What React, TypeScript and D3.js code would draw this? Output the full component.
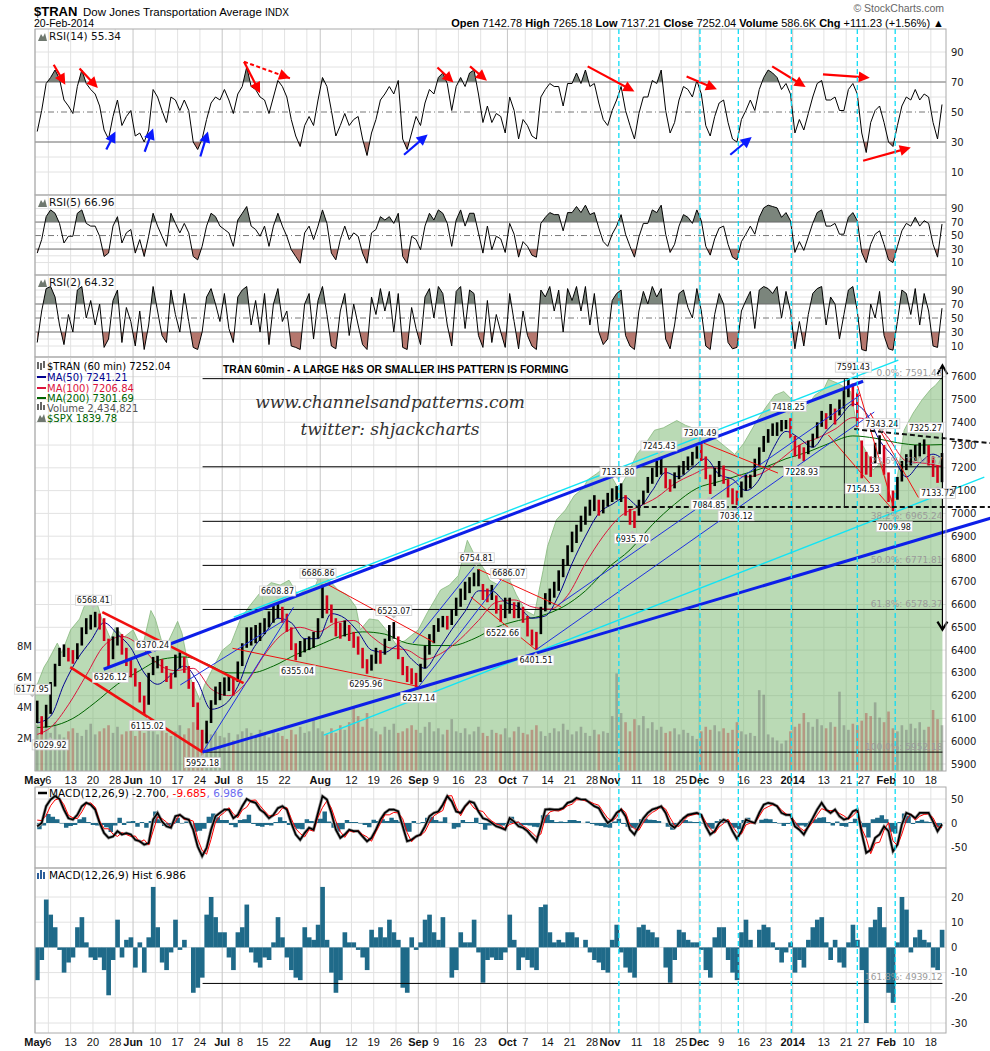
import React from "react";
import * as d3 from "d3";

// ---------------- DATA (trading-day index t: 0 = 6 May 2013, -3 = 1 May 2013) ----------------
const T0 = -3;

const priceHigh = [
  6178, 6110, 6160, 6260, 6340, 6410, 6425, 6410, 6400, 6430,
  6500, 6540, 6555, 6568, 6560, 6540, 6450, 6460, 6500, 6470,
  6410, 6360, 6320, 6260, 6200, 6300, 6370, 6375, 6360, 6330,
  6300, 6380, 6390, 6370, 6330, 6260, 6170, 6050, 6090, 6180,
  6240, 6260, 6280, 6290, 6280, 6350, 6430, 6500, 6500, 6510,
  6520, 6540, 6570, 6595, 6609, 6590, 6560, 6500, 6430, 6440,
  6450, 6460, 6480, 6540, 6687, 6640, 6600, 6540, 6520, 6530,
  6510, 6480, 6460, 6410, 6360, 6380, 6410, 6400, 6450, 6510,
  6523, 6460, 6370, 6330, 6320, 6300, 6340, 6420, 6470, 6510,
  6540, 6550, 6550, 6580, 6630, 6670, 6700, 6720, 6740, 6755,
  6690, 6670, 6686, 6640, 6600, 6630, 6630, 6610, 6610, 6590,
  6550, 6490, 6480, 6590, 6650, 6670, 6700, 6750, 6800, 6860,
  6920, 6950, 6990, 7030, 7060, 7080, 7060, 7060, 7090, 7110,
  7120, 7132, 7080, 7020, 7010, 7060, 7100, 7160, 7200, 7230,
  7245, 7200, 7150, 7180, 7210, 7230, 7250, 7270, 7295, 7304,
  7250, 7170, 7200, 7230, 7210, 7150, 7110, 7100, 7140, 7170,
  7170, 7240, 7290, 7340, 7370, 7395, 7400, 7410, 7410, 7418,
  7340, 7300, 7290, 7320, 7350, 7400, 7450, 7440, 7480, 7460,
  7500, 7540, 7591, 7570, 7530, 7320, 7270, 7250, 7310, 7343,
  7300, 7180, 7100, 7160, 7230, 7260, 7280, 7300, 7310, 7325,
  7300, 7250, 7210, 7265,
];
const priceLow = [
  6080, 6030, 6060, 6120, 6240, 6330, 6370, 6350, 6340, 6360,
  6420, 6470, 6490, 6500, 6490, 6440, 6326, 6360, 6420, 6380,
  6330, 6280, 6240, 6170, 6115, 6160, 6290, 6320, 6300, 6260,
  6230, 6280, 6320, 6300, 6230, 6150, 6050, 5952, 5990, 6080,
  6160, 6180, 6200, 6220, 6200, 6260, 6330, 6410, 6420, 6430,
  6440, 6470, 6500, 6520, 6540, 6520, 6480, 6400, 6355, 6370,
  6390, 6400, 6410, 6450, 6540, 6560, 6520, 6460, 6450, 6460,
  6440, 6410, 6380, 6320, 6296, 6310, 6340, 6340, 6380, 6440,
  6450, 6360, 6290, 6260, 6250, 6237, 6260, 6320, 6380, 6430,
  6480, 6500, 6490, 6510, 6550, 6590, 6620, 6650, 6680, 6680,
  6620, 6610, 6620, 6560, 6523, 6540, 6560, 6540, 6540, 6520,
  6460, 6420, 6402, 6470, 6570, 6600, 6630, 6660, 6720, 6770,
  6830, 6870, 6920, 6950, 6990, 7010, 6990, 7000, 7030, 7050,
  7060, 7050, 6990, 6950, 6936, 6990, 7040, 7090, 7130, 7160,
  7170, 7110, 7095, 7110, 7150, 7170, 7190, 7210, 7240, 7230,
  7150, 7085, 7120, 7160, 7130, 7070, 7040, 7036, 7070, 7100,
  7110, 7160, 7210, 7270, 7310, 7340, 7340, 7360, 7370, 7330,
  7250, 7240, 7229, 7260, 7290, 7330, 7380, 7370, 7410, 7390,
  7430, 7460, 7510, 7470, 7380, 7154, 7170, 7160, 7220, 7260,
  7170, 7050, 7010, 7060, 7140, 7190, 7210, 7230, 7250, 7260,
  7210, 7160, 7134, 7137,
];

const rsi14 = [
  37, 51, 69, 73, 78, 72, 58, 54, 49, 67,
  78, 69, 65, 62, 54, 38, 32, 47, 58, 41,
  47, 51, 34, 36, 30, 38, 65, 60, 51, 43,
  60, 58, 51, 58, 51, 30, 25, 32, 45, 56,
  60, 58, 65, 58, 49, 62, 67, 80, 67, 65,
  60, 58, 49, 60, 71, 67, 60, 45, 34, 27,
  41, 47, 41, 58, 73, 67, 51, 34, 41, 49,
  41, 45, 47, 32, 21, 36, 45, 58, 62, 67,
  62, 71, 32, 25, 36, 47, 41, 56, 65, 62,
  73, 76, 69, 51, 67, 73, 67, 76, 78, 62,
  43, 54, 43, 49, 47, 36, 60, 51, 32, 45,
  41, 34, 32, 60, 65, 69, 67, 67, 54, 69,
  69, 76, 69, 78, 67, 69, 56, 45, 41, 51,
  58, 67, 51, 41, 32, 49, 60, 60, 71, 69,
  78, 51, 36, 43, 58, 67, 65, 60, 71, 62,
  41, 34, 47, 56, 58, 43, 32, 30, 45, 51,
  58, 51, 65, 73, 78, 76, 73, 65, 69, 62,
  36, 45, 38, 49, 60, 69, 71, 58, 58, 60,
  51, 51, 65, 69, 62, 36, 23, 43, 51, 54,
  43, 30, 27, 41, 54, 60, 58, 65, 58, 62,
  60, 43, 32, 55,
];
const rsi5 = [
  24, 44, 78, 88, 83, 68, 39, 49, 49, 83,
  88, 68, 64, 64, 49, 19, 24, 64, 78, 39,
  54, 59, 24, 44, 19, 49, 83, 64, 49, 34,
  83, 68, 54, 68, 54, 19, 14, 34, 64, 83,
  78, 64, 59, 54, 34, 73, 83, 93, 64, 59,
  49, 64, 34, 64, 83, 64, 49, 29, 19, 9,
  54, 64, 44, 64, 88, 68, 24, 14, 44, 64,
  44, 54, 49, 24, 9, 54, 59, 78, 73, 78,
  68, 83, 19, 9, 49, 44, 29, 64, 83, 73,
  88, 83, 68, 34, 73, 88, 64, 83, 83, 54,
  24, 64, 29, 49, 45, 25, 68, 52, 18, 41,
  34, 21, 18, 68, 77, 84, 81, 81, 57, 84,
  84, 93, 84, 95, 81, 84, 61, 41, 34, 52,
  64, 81, 52, 34, 18, 48, 68, 68, 88, 84,
  95, 52, 25, 37, 64, 81, 77, 68, 88, 72,
  34, 21, 45, 61, 64, 37, 18, 14, 41, 52,
  64, 52, 77, 91, 95, 93, 91, 77, 84, 72,
  25, 41, 28, 48, 68, 84, 88, 64, 64, 68,
  52, 52, 77, 84, 72, 25, 10, 37, 52, 57,
  37, 14, 10, 34, 57, 68, 64, 77, 64, 72,
  68, 37, 18, 67,
];
const rsi2 = [
  15, 60, 92, 95, 80, 40, 12, 55, 30, 90,
  95, 50, 75, 40, 70, 8, 20, 75, 90, 15,
  65, 45, 10, 60, 5, 40, 95, 60, 25, 15,
  90, 55, 30, 85, 45, 8, 5, 30, 80, 92,
  70, 45, 85, 35, 15, 80, 90, 95, 40, 75,
  30, 85, 12, 70, 92, 45, 60, 10, 8, 5,
  70, 85, 20, 75, 95, 55, 10, 6, 60, 85,
  25, 70, 40, 12, 5, 80, 55, 92, 60, 88,
  30, 85, 8, 5, 65, 35, 12, 80, 92, 50,
  95, 85, 40, 10, 88, 95, 35, 90, 85, 25,
  8, 75, 15, 55, 30, 8, 85, 45, 6, 60,
  25, 10, 5, 90, 80, 95, 60, 90, 30, 92,
  75, 95, 60, 95, 40, 85, 30, 12, 20, 75,
  85, 90, 25, 10, 5, 60, 88, 70, 95, 80,
  92, 20, 6, 40, 85, 90, 65, 50, 92, 60,
  10, 5, 55, 85, 70, 15, 6, 8, 60, 75,
  88, 35, 90, 95, 92, 85, 95, 50, 88, 60,
  6, 45, 10, 55, 85, 92, 95, 40, 80, 70,
  20, 55, 90, 95, 60, 5, 3, 70, 50, 88,
  25, 6, 4, 45, 90, 85, 55, 92, 40, 85,
  60, 10, 8, 64,
];
// hourly volume peaks per day, millions
const volumeM = [
  3.0, 2.6, 2.8, 2.5, 3.2, 2.4, 2.2, 2.6, 2.8, 2.5,
  2.3, 2.7, 3.1, 2.4, 2.6, 2.8, 3.0, 2.5, 2.9, 2.4,
  2.6, 2.8, 2.3, 2.7, 2.5, 3.0, 2.6, 2.4, 2.8, 2.5,
  2.3, 2.6, 3.0, 2.4, 2.8, 3.2, 2.9, 2.7, 2.5, 2.4,
  2.6, 2.3, 2.2, 2.5, 2.0, 2.4, 2.6, 2.8, 2.5, 2.3,
  2.7, 2.4, 2.2, 2.6, 2.5, 2.3, 2.1, 2.7, 2.4, 2.9,
  2.5, 2.6, 3.4, 2.8, 2.6, 2.4, 2.8, 2.5, 3.0, 2.7,
  3.2, 4.2, 3.6, 2.9, 3.8, 2.8, 2.6, 2.4, 2.9, 2.7,
  3.1, 2.5, 2.6, 2.8, 3.0, 2.7, 2.5, 2.9, 3.2, 2.6,
  2.8, 2.4, 2.7, 3.4, 2.6, 2.5, 2.8, 2.4, 2.6, 2.9,
  2.5, 2.3, 2.7, 2.5, 2.4, 2.8, 2.2, 2.6, 2.9, 2.5,
  2.4, 2.7, 3.0, 2.6, 2.3, 2.5, 2.8, 2.6, 3.1, 2.7,
  2.4, 2.6, 2.9, 2.5, 2.3, 2.7, 2.4, 2.6, 2.5, 3.6,
  6.4, 3.8, 3.2, 2.6, 3.4, 3.0, 3.6, 2.8, 3.2, 2.7,
  2.9, 2.5, 2.6, 2.8, 2.4, 2.7, 2.5, 2.3, 2.1, 2.6,
  2.9, 2.7, 3.0, 2.6, 2.8, 2.5, 2.7, 3.2, 2.6, 2.4,
  2.5, 2.3, 5.3, 5.0, 2.4, 2.2, 2.0, 1.8, 2.0, 2.6,
  2.9, 3.1, 3.8, 3.2, 2.9, 3.4, 3.0, 2.8, 3.2, 2.9,
  5.2, 3.0, 2.7, 3.1, 3.0, 3.3, 3.8, 3.6, 4.5, 3.5,
  3.2, 3.9, 2.8, 2.6, 3.0, 2.7, 3.1, 2.8, 3.2, 2.7,
  2.9, 4.0, 3.4, 3.0,
];
const macdLine = [
  -7, 0, 35, 49, 56, 50, 28, 10, 7, 17,
  35, 42, 38, 28, 0, -21, -31, -28, -17, -24,
  -21, -24, -35, -38, -45, -42, 7, 21, 3, -7,
  -10, 14, 17, 10, 7, -14, -49, -69, -52, -14,
  14, 21, 28, 28, 10, 17, 35, 50, 45, 42,
  28, 21, 10, 17, 31, 35, 28, 0, -24, -35,
  -21, -10, -14, 21, 56, 49, 21, -14, -31, -24,
  -14, -17, -17, -28, -38, -31, -14, 7, 21, 28,
  28, 24, -7, -38, -35, -28, -24, -7, 14, 21,
  24, 38, 56, 45, 24, 21, 35, 45, 42, 24,
  10, 7, 0, -7, -10, -14, 10, 3, -7, -10,
  -17, -28, -38, -7, 28, 29, 28, 28, 31, 42,
  45, 52, 49, 49, 42, 35, 31, 14, 0, 7,
  21, 28, 14, -14, -24, -7, 10, 21, 28, 31,
  35, 21, -3, -10, 0, 10, 17, 19, 21, 17,
  -7, -24, -17, 0, 7, 3, -17, -33, -17, 7,
  3, 0, 21, 38, 42, 40, 35, 21, 17, 17,
  -7, -14, -24, -7, 10, 28, 42, 28, 21, 28,
  14, 7, 10, 24, 28, -21, -62, -56, -31, -24,
  -7, -17, -59, -45, -3, 21, 17, 10, 21, 21,
  21, 3, -17, -2.7,
];
const macdHist = [
  -13, -5, 19, 13, 8, -1, -10, -6, -4, 8,
  12, 2, -4, -5, -4, -9, -19, -5, 11, -4,
  3, 4, -8, 2, -10, 4, 24, 8, -6, -9,
  -2, 11, -1, 3, 0, -18, -16, -12, 13, 20,
  12, 6, 6, -4, -9, 6, 8, 17, -2, -6,
  -8, -4, -5, 2, 12, 4, -4, -9, -12, -13,
  8, 4, 3, 9, 24, 3, -10, -18, -13, 6,
  2, 2, -1, -4, -9, 7, 4, 8, 4, 11,
  6, 3, -16, -18, 4, -1, 2, 11, 13, 6,
  3, 12, 0, -12, -9, 6, 2, 2, 11, -2,
  -14, -5, -4, -5, -5, -2, 13, 3, -9, -4,
  -5, -8, -9, 16, 17, 6, 2, 3, 2, 6,
  6, 4, 0, 3, -2, -5, -6, -9, -10, 3,
  9, -2, -8, -10, -12, 8, 9, 7, 6, 4,
  0, -8, -14, -5, 7, 6, 3, 2, 2, -1,
  -9, -12, 4, 8, 8, -5, -10, -13, 6, 11,
  3, 0, 7, 9, 8, 2, -1, -6, -2, 2,
  -10, -5, -8, 3, 8, 11, 12, 2, -5, 3,
  -6, -8, 2, 9, 3, -9, -30, 8, 11, 16,
  8, -18, -22, 2, 20, 15, -2, 4, 7, 3,
  2, -8, -9, 6.986,
];

const ma50: [number, number][] = [
  [-3, 6080], [0, 6110], [3, 6250], [6, 6360], [9, 6440], [12, 6520], [15, 6470], [18, 6410], [21, 6300],
  [24, 6250], [27, 6290], [30, 6330], [33, 6260], [36, 6140], [39, 6160], [42, 6240], [45, 6390], [48, 6470],
  [51, 6540], [54, 6520], [57, 6450], [60, 6450], [63, 6560], [66, 6540], [69, 6480], [72, 6400], [75, 6390],
  [78, 6420], [81, 6360], [84, 6320], [87, 6400], [90, 6490], [93, 6570], [96, 6660], [99, 6660], [102, 6610],
  [105, 6590], [108, 6540], [111, 6550], [114, 6640], [117, 6780], [120, 6900], [123, 7000], [126, 7040],
  [129, 7070], [132, 7030], [135, 7100], [138, 7180], [141, 7160], [144, 7200], [147, 7240], [150, 7170],
  [153, 7150], [156, 7100], [159, 7150], [162, 7280], [165, 7360], [168, 7330], [171, 7290], [174, 7360],
  [177, 7420], [180, 7480], [183, 7440], [186, 7320], [189, 7250], [192, 7160], [195, 7220], [198, 7260], [200, 7241],
];
const ma100: [number, number][] = [
  [-3, 6030], [0, 6060], [4, 6160], [8, 6290], [12, 6420], [16, 6460], [20, 6420], [24, 6340], [28, 6310],
  [32, 6320], [36, 6230], [40, 6200], [44, 6260], [48, 6380], [52, 6470], [56, 6500], [60, 6480], [64, 6520],
  [68, 6530], [72, 6460], [76, 6410], [80, 6400], [84, 6360], [88, 6390], [92, 6450], [96, 6530], [100, 6610],
  [104, 6620], [108, 6590], [112, 6580], [116, 6640], [120, 6780], [124, 6900], [128, 6990], [132, 7030],
  [136, 7070], [140, 7130], [144, 7170], [148, 7200], [152, 7190], [156, 7160], [160, 7180], [164, 7240],
  [168, 7300], [172, 7330], [176, 7370], [180, 7420], [184, 7410], [188, 7330], [192, 7230], [196, 7220], [200, 7207],
];
const ma200: [number, number][] = [
  [-3, 6060], [0, 6065], [5, 6100], [10, 6170], [15, 6250], [20, 6310], [25, 6360], [30, 6370], [35, 6340],
  [40, 6300], [45, 6300], [50, 6330], [55, 6380], [60, 6420], [65, 6460], [70, 6480], [75, 6470], [80, 6430],
  [85, 6420], [90, 6420], [95, 6450], [100, 6500], [105, 6530], [110, 6550], [115, 6590], [120, 6660],
  [125, 6760], [130, 6840], [135, 6950], [140, 7040], [145, 7110], [150, 7140], [155, 7170], [160, 7200],
  [165, 7240], [170, 7270], [175, 7310], [180, 7340], [185, 7330], [190, 7310], [195, 7300], [200, 7302],
];
const spx: [number, number][] = [
  [-3, 1581], [-1, 1600], [0, 1606], [2, 1620], [3, 1612], [5, 1631], [7, 1640], [8, 1650], [10, 1660], [11, 1652],
  [12, 1640], [14, 1623], [15, 1633], [17, 1625], [19, 1631], [21, 1615], [23, 1647], [24, 1640], [26, 1614],
  [28, 1630], [29, 1638], [30, 1628], [32, 1590], [34, 1573], [35, 1585], [37, 1600], [39, 1614], [41, 1620],
  [43, 1639], [45, 1650], [48, 1664], [50, 1670], [52, 1668], [54, 1672], [56, 1660], [58, 1665], [60, 1668],
  [61, 1678], [63, 1672], [65, 1664], [67, 1660], [69, 1650], [70, 1631], [72, 1640], [74, 1639], [76, 1630],
  [78, 1619], [80, 1622], [83, 1631], [85, 1645], [88, 1664], [90, 1668], [92, 1676], [94, 1705], [96, 1690],
  [98, 1680], [99, 1672], [101, 1668], [103, 1676], [105, 1660], [107, 1647], [109, 1643], [111, 1680],
  [112, 1700], [114, 1722], [116, 1730], [118, 1742], [120, 1748], [121, 1755], [123, 1760], [124, 1763],
  [126, 1760], [128, 1747], [130, 1760], [132, 1776], [134, 1785], [136, 1796], [138, 1798], [141, 1804],
  [143, 1800], [146, 1796], [148, 1790], [150, 1788], [152, 1782], [154, 1776], [156, 1785], [159, 1804],
  [161, 1815], [163, 1825], [165, 1828], [168, 1817], [170, 1815], [172, 1825], [174, 1830], [175, 1838],
  [177, 1835], [178, 1833], [180, 1828], [182, 1788], [184, 1775], [185, 1763], [187, 1770], [189, 1738],
  [190, 1745], [192, 1796], [194, 1810], [196, 1821], [198, 1830], [199, 1833], [200.6, 1840],
];

const xTicks: [number, string, boolean][] = [
  [-3, "May", true], [0, "6", false], [5, "13", false], [10, "20", false], [15, "28", false],
  [19, "Jun", true], [24, "10", false], [29, "17", false], [34, "24", false],
  [39, "Jul", true], [43, "8", false], [48, "15", false], [53, "22", false],
  [61, "Aug", true], [68, "12", false], [73, "19", false], [78, "26", false],
  [83, "Sep", true], [87, "9", false], [92, "16", false], [97, "23", false],
  [103, "Oct", true], [107, "7", false], [112, "14", false], [117, "21", false], [122, "28", false],
  [126, "Nov", true], [132, "11", false], [137, "18", false], [142, "25", false],
  [146, "Dec", true], [151, "9", false], [156, "16", false], [161, "23", false],
  [167, "2014", true], [174, "13", false], [179, "21", false], [183, "27", false],
  [188, "Feb", true], [193, "10", false], [198, "18", false],
];
const extraGrid = [58];
const priceTicks = [5900, 6000, 6100, 6200, 6300, 6400, 6500, 6600, 6700, 6800, 6900, 7000, 7100, 7200, 7300, 7400, 7500, 7600];
const rsiTicks = [10, 30, 50, 70, 90];
const macdTicks = [-50, 0, 50];
const histTicks = [-30, -20, -10, 0, 10, 20];
const volTicks: [number, string][] = [[2, "2M"], [4, "4M"], [6, "6M"], [8, "8M"]];

const fibLevels: [string, number][] = [
  ["0.0%", 7591.43], ["23.6%", 7204.57], ["38.2%", 6965.24], ["50.0%", 6771.81], ["61.8%", 6578.37], ["100.0%", 5952.18],
];
const peakLabels: [number, number][] = [
  [-3.6, 6177.95], [10.1, 6568.41], [23.4, 6370.24], [51.4, 6608.87], [60.5, 6686.86], [77.5, 6523.07],
  [96, 6754.81], [103.3, 6686.07], [127.8, 7131.80], [137, 7245.43], [146.2, 7304.49], [166, 7418.25],
  [180.6, 7591.43], [187, 7343.24], [196.8, 7325.27],
];
// [t, price, extra vertical nudge]
const lowLabels: [number, number, number][] = [
  [0.4, 6029.92, 0], [13.9, 6326.12, 0], [22.2, 6115.02, 0], [34.6, 5952.18, 0], [55.9, 6355.04, 0], [71.2, 6295.96, 0],
  [83.1, 6237.14, 0], [101.9, 6522.66, 0], [109.4, 6401.51, 0], [131, 6935.70, 0], [148.2, 7084.85, 0], [154.3, 7036.12, 0],
  [169, 7228.93, 0], [182.8, 7154.53, 0], [189.8, 7009.98, 5], [199.5, 7133.72, 0],
];
const cyanMarks = [128, 146.2, 154.8, 166.7, 181.5, 190];

// trendlines [t1, price1, t2, price2]
const thickBlue = [[12.4, 6316, 182.8, 7580], [34.6, 5952, 211.6, 6980]];
const cyanLines = [[41.6, 6545, 190.7, 7673], [61.8, 6027, 210, 7159]];
const thinBlue = [
  [34.6, 5952, 55, 6588], [29.6, 6247, 52.8, 6530], [83, 6237, 101.5, 6707], [81.8, 6431, 95.5, 6765],
  [109.4, 6401, 185.3, 7445], [114.3, 6597, 182.2, 7520],
];
const thickRed = [[12.1, 6567, 43.8, 6255], [4.9, 6325, 34.6, 5952]];
const thinRed = [
  [41.3, 6408, 83.1, 6240], [62.2, 6693, 86.5, 6434], [96.4, 6755, 115, 6590], [94.8, 6633, 109.4, 6401],
  [147.1, 7308, 163.7, 7177], [181.5, 7563, 189.5, 7035], [175, 7344, 189.1, 7024], [184.4, 7440, 195.2, 7070],
];
const blackDashed = [[130, 7028, 211.6, 7028], [180.8, 7370, 211.6, 7308]];
const blackVertical = [[178.6, 7591, 178.6, 7028]];
const targetArrow = [200.6, 7650, 6490];
const histFib: [string, number] = ["161.8%: 4939.12", -14.3];

// RSI(14) annotations [t1, v1, t2, v2]
const rsiRedArrows = [
  [1.2, 81.5, 3.8, 68.2], [7.0, 79, 11.1, 66], [43.9, 83.5, 47.5, 62.5], [87.3, 79.7, 90.9, 69.7],
  [94.6, 80.4, 98.4, 70.9], [121.0, 80.4, 131.5, 63.7], [143.2, 73.6, 150.0, 65.1], [162.4, 80.4, 169.9, 66.7],
  [173.8, 75.1, 184.3, 72.9], [182.8, 17.5, 193.5, 26.3],
];
const rsiRedDashed = [[43.9, 83.5, 54.2, 72.5]];
const rsiBlueArrows = [
  [13.0, 25, 15.05, 37], [21.6, 23.5, 23.5, 39], [34.1, 20.3, 35.8, 37], [79.8, 21.5, 85.1, 35], [153.0, 21.5, 157.8, 33.4],
];

// ---------------- RENDER ----------------
const SANS = "'DejaVu Sans', Verdana, sans-serif";
const ARIAL = "'Liberation Sans', Arial, sans-serif";

function headPts(x1: number, y1: number, x2: number, y2: number, L = 11, W = 5.5) {
  const dx = x2 - x1, dy = y2 - y1, len = Math.hypot(dx, dy);
  const ux = dx / len, uy = dy / len;
  const bx = x2 - ux * L, by = y2 - uy * L;
  return `${x2},${y2} ${bx - uy * W},${by + ux * W} ${bx + uy * W},${by - ux * W}`;
}

export default function App() {
  const X0 = 35, X1 = 946;
  const x = d3.scaleLinear().domain([-3, 201.4]).range([X0, X1]);
  const dx = (t: number) => x(t + 0.5);
  const days = priceHigh.map((_, i) => i + T0);

  const yR14 = d3.scaleLinear().domain([0, 100]).range([187, 37]);
  const yR5 = d3.scaleLinear().domain([0, 100]).range([269.3, 201.8]);
  const yR2 = d3.scaleLinear().domain([0, 100]).range([353, 283]);
  const yP = d3.scaleLinear().domain([5900, 7600]).range([764, 376.7]);
  const yV = d3.scaleLinear().domain([0, 8]).range([771, 649]);
  const yS = d3.scaleLinear().domain([1573, 1840]).range([700, 377]);
  const yM = d3.scaleLinear().domain([-50, 50]).range([847, 799]);
  const yH = d3.scaleLinear().domain([-30, 20]).range([1023, 897]);

  const gridTs: [number, boolean][] = [...xTicks.map((d) => [d[0], d[2]] as [number, boolean]), ...extraGrid.map((t) => [t, false] as [number, boolean])];
  const vGrid = (top: number, bottom: number, k: string) =>
    gridTs.map(([t, major]) => (
      <line key={k + t} x1={x(t)} x2={x(t)} y1={top} y2={bottom} stroke={major ? "#c6c6c6" : "#e2e2e2"} strokeWidth={1} />
    ));

  const rightLabel = (y: number, txt: string, k: string) => (
    <text key={k} x={951} y={y + 3.5} fontSize={10} fontFamily={SANS} fill="#222">{txt}</text>
  );

  const rsiPanel = (k: string, data: number[], y: d3.ScaleLinear<number, number>, top: number, bottom: number, label: string) => {
    const pts: [number, number][] = data.map((v, i) => [dx(i + T0), y(v)]);
    const line = d3.line()(pts) || "";
    const aHi = d3.area<[number, number]>().x((d) => d[0]).y0(y(70)).y1((d) => d[1])(pts) || "";
    const aLo = d3.area<[number, number]>().x((d) => d[0]).y0(y(30)).y1((d) => d[1])(pts) || "";
    return (
      <g key={k}>
        <defs>
          <clipPath id={k + "hi"}><rect x={X0} y={top} width={X1 - X0} height={y(70) - top} /></clipPath>
          <clipPath id={k + "lo"}><rect x={X0} y={y(30)} width={X1 - X0} height={bottom - y(30)} /></clipPath>
        </defs>
        {[10, 20, 40, 60, 80, 90].map((v) => (
          <line key={k + "g" + v} x1={X0} x2={X1} y1={y(v)} y2={y(v)} stroke="#e2e2e2" />
        ))}
        {vGrid(top, bottom, k + "v")}
        <path d={aHi} fill="#7b857c" clipPath={`url(#${k}hi)`} />
        <path d={aLo} fill="#b5776e" clipPath={`url(#${k}lo)`} />
        <line x1={X0} x2={X1} y1={y(70)} y2={y(70)} stroke="#6a6a6a" strokeWidth={1} />
        <line x1={X0} x2={X1} y1={y(30)} y2={y(30)} stroke="#6a6a6a" strokeWidth={1} />
        <line x1={X0} x2={X1} y1={y(50)} y2={y(50)} stroke="#777" strokeWidth={1} strokeDasharray="6,3,1,3" />
        <path d={line} fill="none" stroke="#000" strokeWidth={1} />
        {rsiTicks.map((v) => rightLabel(y(v), String(v), k + "t" + v))}
        <rect x={X0} y={top} width={X1 - X0} height={bottom - top} fill="none" stroke="#aaa" />
        <polygon points={`${X0 + 3},${top + 12} ${X0 + 6},${top + 5} ${X0 + 8},${top + 8} ${X0 + 10},${top + 4} ${X0 + 12},${top + 12}`} fill="#6f786f" />
        <text x={X0 + 14} y={top + 11} fontSize={10.5} fontFamily={SANS} fill="#111">{label}</text>
      </g>
    );
  };

  // ----- price panel -----
  const PT = 357, PB = 771;
  const mids = days.map((_, i) => (priceHigh[i] + priceLow[i]) / 2);
  const up = mids.map((m, i) => (i === 0 ? true : m >= mids[i - 1]));
  const spxPts: [number, number][] = spx.map(([t, v]) => [x(t), yS(v)]);
  const spxArea = d3.area<[number, number]>().x((d) => d[0]).y0(PB).y1((d) => d[1])(spxPts) || "";
  const spxLine = d3.line()(spxPts) || "";
  const maPath = (arr: [number, number][]) =>
    d3.line<[number, number]>().x((d) => dx(d[0])).y((d) => yP(d[1])).curve(d3.curveMonotoneX)(arr) || "";

  const seg = (d: number[], k: string, props: any) => (
    <line key={k} x1={x(d[0])} y1={yP(d[1])} x2={x(d[2])} y2={yP(d[3])} {...props} />
  );

  const labelBox = (t: number, p: number, isUp: boolean, k: string, nudge = 0) => {
    const cx = x(t), py = yP(p);
    const cy = (isUp ? py - 11.5 : py + 10.5) + nudge;
    const w = 36, h = 10;
    const txt = p.toFixed(2);
    const ptr = isUp
      ? `${cx - 3},${cy + h / 2} ${cx + 3},${cy + h / 2} ${cx},${cy + h / 2 + 3}`
      : `${cx - 3},${cy - h / 2} ${cx + 3},${cy - h / 2} ${cx},${cy - h / 2 - 3}`;
    return (
      <g key={k}>
        <polygon points={ptr} fill="#c0c0c0" />
        <rect x={cx - w / 2} y={cy - h / 2} width={w} height={h} fill="#fff" stroke="#cfcfcf" strokeWidth={0.8} />
        <text x={cx} y={cy + 3} textAnchor="middle" fontSize={8} fontFamily={SANS} fill="#111">{txt}</text>
      </g>
    );
  };

  const fibX1 = x(34.6), fibX2 = x(200.6);

  // ----- MACD -----
  const macdPts: [number, number][] = macdLine.map((v, i) => [dx(i + T0), yM(v)]);
  const signalPts: [number, number][] = macdLine.map((v, i) => [dx(i + T0), yM(v - macdHist[i])]);
  const histArea = d3.area<number>().x((_, i) => dx(i + T0)).y0(yM(0)).y1((v) => yM(v)).curve(d3.curveStepAfter)(macdHist) || "";
  const dayW = x(1) - x(0);

  const xLabels = (yBase: number, k: string) =>
    xTicks.map(([t, lab, major]) => (
      <text key={k + t} x={x(t)} y={yBase} textAnchor="middle" fontSize={11} fontFamily={ARIAL} fontWeight={major ? "bold" : "normal"} fill="#111">
        {lab}
      </text>
    ));

  return (
    <svg width={990} height={1051} style={{ position: "absolute", left: 0, top: 0, background: "#fff" }} xmlns="http://www.w3.org/2000/svg">
      <rect x={0} y={0} width={990} height={1051} fill="#fff" />
      {/* header */}
      <text x={34} y={16} fontSize={13} fontWeight="bold" fontFamily={ARIAL} fill="#000">$TRAN</text>
      <text x={83} y={16} fontSize={11.5} fontFamily={ARIAL} fill="#000">
        Dow Jones Transportation Average <tspan fontSize={10}>INDX</tspan>
      </text>
      <text x={34} y={27} fontSize={10.5} fontFamily={ARIAL} fill="#000">20-Feb-2014</text>
      <text x={944} y={12} textAnchor="end" fontSize={10.5} fontFamily={ARIAL} fill="#666">© StockCharts.com</text>
      <text x={944} y={27} textAnchor="end" fontSize={11} fontFamily={ARIAL} fill="#000">
        <tspan fontWeight="bold">Open</tspan> 7142.78 <tspan fontWeight="bold">High</tspan> 7265.18{" "}
        <tspan fontWeight="bold">Low</tspan> 7137.21 <tspan fontWeight="bold">Close</tspan> 7252.04{" "}
        <tspan fontWeight="bold">Volume</tspan> 586.6K <tspan fontWeight="bold">Chg</tspan> +111.23 (+1.56%) ▲
      </text>

      {/* RSI panels */}
      {rsiPanel("r14", rsi14, yR14, 29, 195, "RSI(14) 55.34")}
      {rsiPanel("r5", rsi5, yR5, 195, 275, "RSI(5) 66.96")}
      {rsiPanel("r2", rsi2, yR2, 275, 357, "RSI(2) 64.32")}

      {/* RSI(14) annotations */}
      <g>
        {rsiRedArrows.map((d, i) => {
          const x1 = x(d[0]), y1 = yR14(d[1]), x2 = x(d[2]), y2 = yR14(d[3]);
          const len = Math.hypot(x2 - x1, y2 - y1);
          const ex = x2 - ((x2 - x1) / len) * 8, ey = y2 - ((y2 - y1) / len) * 8;
          return (
            <g key={"ra" + i}>
              <line x1={x1} y1={y1} x2={ex} y2={ey} stroke="#ff0000" strokeWidth={2.2} />
              <polygon points={headPts(x1, y1, x2, y2)} fill="#ff0000" />
            </g>
          );
        })}
        {rsiRedDashed.map((d, i) => {
          const x1 = x(d[0]), y1 = yR14(d[1]), x2 = x(d[2]), y2 = yR14(d[3]);
          return (
            <g key={"rd" + i}>
              <line x1={x1} y1={y1} x2={x2} y2={y2} stroke="#ff0000" strokeWidth={2} strokeDasharray="4,2.5" />
              <polygon points={headPts(x1, y1, x2, y2)} fill="#ff0000" />
            </g>
          );
        })}
        {rsiBlueArrows.map((d, i) => {
          const x1 = x(d[0]), y1 = yR14(d[1]), x2 = x(d[2]), y2 = yR14(d[3]);
          const len = Math.hypot(x2 - x1, y2 - y1);
          const ex = x2 - ((x2 - x1) / len) * 8, ey = y2 - ((y2 - y1) / len) * 8;
          return (
            <g key={"ba" + i}>
              <line x1={x1} y1={y1} x2={ex} y2={ey} stroke="#0a1aff" strokeWidth={2.2} />
              <polygon points={headPts(x1, y1, x2, y2)} fill="#0a1aff" />
            </g>
          );
        })}
      </g>

      {/* PRICE PANEL */}
      <defs>
        <clipPath id="clipP"><rect x={X0} y={PT} width={X1 - X0} height={PB - PT} /></clipPath>
        <clipPath id="clipW"><rect x={X0} y={PT} width={990 - X0} height={PB - PT} /></clipPath>
        <clipPath id="clipM"><rect x={X0} y={787} width={X1 - X0} height={81} /></clipPath>
      </defs>
      <g>
        {priceTicks.map((p) => (
          <line key={"pg" + p} x1={X0} x2={X1} y1={yP(p)} y2={yP(p)} stroke="#e2e2e2" />
        ))}
        {vGrid(PT, PB, "pv")}
        <g clipPath="url(#clipP)">
          <path d={spxArea} fill="#6fb264" fillOpacity={0.48} />
          <path d={spxLine} fill="none" stroke="#86b87c" strokeWidth={0.8} />
          {volumeM.map((v, i) => (
            <rect key={"v" + i} x={dx(i + T0) - 1.3} y={yV(v)} width={2.6} height={PB - yV(v)}
              fill={up[i] ? "#6e6e6e" : "#b04848"} fillOpacity={0.45} />
          ))}
          {fibLevels.map(([, p]) => (
            <line key={"fl" + p} x1={fibX1} x2={fibX2} y1={yP(p)} y2={yP(p)} stroke="#000" strokeWidth={1} />
          ))}
          <path d={maPath(ma200)} fill="none" stroke="#006400" strokeWidth={1} />
          <path d={maPath(ma100)} fill="none" stroke="#dc143c" strokeWidth={1} />
          <path d={maPath(ma50)} fill="none" stroke="#000090" strokeWidth={1} />
          {days.map((t, i) => (
            <line key={"pb" + i} x1={dx(t)} x2={dx(t)} y1={yP(priceLow[i])} y2={yP(priceHigh[i])}
              stroke={up[i] ? "#000" : "#d4001a"} strokeWidth={2.6} />
          ))}
        </g>
        <g clipPath="url(#clipW)">
          {thinBlue.map((d, i) => seg(d, "tb" + i, { stroke: "#1f2fe0", strokeWidth: 1 }))}
          {thinRed.map((d, i) => seg(d, "tr" + i, { stroke: "#f01010", strokeWidth: 1 }))}
          {thickRed.map((d, i) => seg(d, "Tr" + i, { stroke: "#f01010", strokeWidth: 2.6 }))}
          {cyanLines.map((d, i) => seg(d, "cy" + i, { stroke: "#12e4f4", strokeWidth: 1.4 }))}
          {thickBlue.map((d, i) => seg(d, "TB" + i, { stroke: "#0d1fe8", strokeWidth: 3 }))}
          {blackDashed.map((d, i) => seg(d, "bd" + i, { stroke: "#111", strokeWidth: 2, strokeDasharray: "5,3" }))}
          {blackVertical.map((d, i) => seg(d, "bv" + i, { stroke: "#111", strokeWidth: 1 }))}
        </g>
        {/* target arrow */}
        <line x1={x(targetArrow[0])} x2={x(targetArrow[0])} y1={yP(targetArrow[1])} y2={yP(targetArrow[2])} stroke="#000" strokeWidth={1.2} />
        <polyline points={`${x(targetArrow[0]) - 5},${yP(targetArrow[1]) + 9} ${x(targetArrow[0])},${yP(targetArrow[1])} ${x(targetArrow[0]) + 5},${yP(targetArrow[1]) + 9}`} fill="none" stroke="#000" strokeWidth={2} />
        <polyline points={`${x(targetArrow[0]) - 5},${yP(targetArrow[2]) - 8} ${x(targetArrow[0])},${yP(targetArrow[2])} ${x(targetArrow[0]) + 5},${yP(targetArrow[2]) - 8}`} fill="none" stroke="#000" strokeWidth={2.2} />

        {/* fib labels */}
        {fibLevels.map(([name, p]) => (
          <text key={"ft" + p} x={fibX2} y={yP(p) - 2.5} textAnchor="end" fontSize={9} fontFamily={SANS} fill="#9a9a9a">
            {name}: {p.toFixed(2)}
          </text>
        ))}
        {/* price labels */}
        {peakLabels.map(([t, p], i) => labelBox(t, p, true, "pk" + i))}
        {lowLabels.map(([t, p, n], i) => labelBox(t, p, false, "lw" + i, n))}

        {/* texts */}
        <text x={223} y={373} fontSize={10.3} fontWeight="bold" fontFamily={ARIAL} fill="#000">
          TRAN 60min - A LARGE H&amp;S OR SMALLER IHS PATTERN IS FORMING
        </text>
        <text x={390} y={408} textAnchor="middle" fontSize={17} fontStyle="italic" fontFamily="'DejaVu Serif', serif" fill="#333">
          www.channelsandpatterns.com
        </text>
        <text x={390} y={435} textAnchor="middle" fontSize={17} fontStyle="italic" fontFamily="'DejaVu Serif', serif" fill="#333">
          twitter: shjackcharts
        </text>

        {/* legend */}
        <g fontFamily={SANS} fontSize={10}>
          <g stroke="#000" strokeWidth={1.2}>
            <line x1={38} x2={38} y1={362} y2={369} /><line x1={41} x2={41} y1={363} y2={370} /><line x1={44} x2={44} y1={361} y2={368} />
          </g>
          <text x={47} y={370} fill="#000">$TRAN (60 min) 7252.04</text>
          <line x1={37} x2={46} y1={377} y2={377} stroke="#000090" strokeWidth={2} />
          <text x={47} y={381} fill="#000090">MA(50) 7241.21</text>
          <line x1={37} x2={46} y1={388} y2={388} stroke="#dc143c" strokeWidth={2} />
          <text x={47} y={392} fill="#dc143c">MA(100) 7206.84</text>
          <line x1={37} x2={46} y1={398} y2={398} stroke="#006400" strokeWidth={2} />
          <text x={47} y={402} fill="#006400">MA(200) 7301.69</text>
          <g fill="#666">
            <rect x={37} y={404} width={2} height={6} /><rect x={40} y={402} width={2} height={8} /><rect x={43} y={405} width={2} height={5} />
          </g>
          <text x={47} y={412} fill="#555">Volume 2,434,821</text>
          <polygon points="37,422 40,415 42,418 44,414 46,422" fill="#6f786f" />
          <text x={47} y={422} fill="#006400">$SPX 1839.78</text>
        </g>

        {priceTicks.map((p) => rightLabel(yP(p), String(p), "pt" + p))}
        {volTicks.map(([v, s]) => (
          <text key={"vt" + v} x={32} y={yV(v) + 1} textAnchor="end" fontSize={10} fontFamily={SANS} fill="#222">{s}</text>
        ))}
        <rect x={X0} y={PT} width={X1 - X0} height={PB - PT} fill="none" stroke="#aaa" />
      </g>
      {xLabels(784, "xa")}

      {/* MACD panel */}
      <g>
        {macdTicks.map((v) => (
          <line key={"mg" + v} x1={X0} x2={X1} y1={yM(v)} y2={yM(v)} stroke="#e2e2e2" />
        ))}
        {vGrid(787, 868, "mv")}
        <g clipPath="url(#clipM)">
          <path d={histArea} fill="#1f6a89" />
          <path d={d3.line()(macdPts) || ""} fill="none" stroke="#9a9a9a" strokeWidth={3.2} />
          <path d={d3.line()(signalPts) || ""} fill="none" stroke="#ff0000" strokeWidth={1} />
          <path d={d3.line()(macdPts) || ""} fill="none" stroke="#000" strokeWidth={1.7} />
        </g>
        {macdTicks.map((v) => rightLabel(yM(v), String(v), "mt" + v))}
        <rect x={X0} y={787} width={X1 - X0} height={81} fill="none" stroke="#aaa" />
        <line x1={38} x2={47} y1={793} y2={793} stroke="#000" strokeWidth={2.5} />
        <text x={49} y={797} fontSize={10.5} fontFamily={SANS} fill="#000">
          MACD(12,26,9) -2.700<tspan fill="#ff0000">, -9.685</tspan><tspan fill="#6b6bef">, 6.986</tspan>
        </text>
      </g>

      {/* Histogram panel */}
      <g>
        {histTicks.map((v) => (
          <line key={"hg" + v} x1={X0} x2={X1} y1={yH(v)} y2={yH(v)} stroke="#e2e2e2" />
        ))}
        {vGrid(868, 1033, "hv")}
        {macdHist.map((v, i) => (
          <rect key={"h" + i} x={x(i + T0)} width={dayW + 0.2} y={Math.min(yH(0), yH(v))} height={Math.abs(yH(v) - yH(0))} fill="#1f6a89" />
        ))}
        <line x1={fibX1} x2={fibX2} y1={yH(histFib[1])} y2={yH(histFib[1])} stroke="#000" strokeWidth={1} />
        <text x={fibX2} y={yH(histFib[1]) - 3} textAnchor="end" fontSize={9} fontFamily={SANS} fill="#9a9a9a">{histFib[0]}</text>
        {histTicks.map((v) => rightLabel(yH(v), String(v), "ht" + v))}
        <rect x={X0} y={868} width={X1 - X0} height={165} fill="none" stroke="#aaa" />
        <g fill="#2a5d9a">
          <rect x={37} y={873} width={2} height={6} /><rect x={40} y={870} width={2} height={9} /><rect x={43} y={872} width={2} height={7} />
        </g>
        <text x={49} y={879} fontSize={10.5} fontFamily={SANS} fill="#000">MACD(12,26,9) Hist 6.986</text>
      </g>
      {xLabels(1046, "xb")}

      {/* cyan date markers */}
      {cyanMarks.map((t) => (
        <line key={"cm" + t} x1={x(t)} x2={x(t)} y1={29} y2={1033} stroke="#10dcf5" strokeWidth={1.3} strokeDasharray="5,3" />
      ))}
    </svg>
  );
}
